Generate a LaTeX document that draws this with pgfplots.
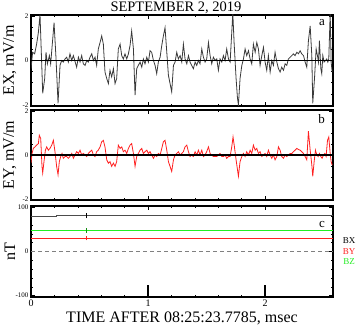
\documentclass[border=0pt]{standalone}
\usepackage{pgfplots}
\pgfplotsset{compat=1.18}
\usepackage{fontspec}
\setmainfont{Liberation Serif}
\definecolor{exgray}{HTML}{3A3A3A}
\definecolor{bzgreen}{HTML}{22EE22}
\definecolor{byred}{HTML}{FF2020}
\pgfplotsset{
  panel/.style={
    scale only axis, anchor=south west, width=302bp, height=91bp,
    xmin=0, xmax=2.58, clip=true,
    axis line style={line width=1.4bp},
    tick style={black, line width=0.5bp},
    major tick length=4bp, minor tick length=2bp,
    xtick={0,1,2}, minor x tick num=4,
    /pgf/number format/assume math mode=true,
    yticklabel style={font=\fontsize{7bp}{8bp}\selectfont, xshift=1bp},
    xticklabel style={font=\fontsize{10bp}{11bp}\selectfont},
    ylabel style={at={(axis description cs:-0.07,0.5)}, anchor=center,
      font=\fontsize{16bp}{18bp}\selectfont},
  }
}
\begin{document}
\begin{tikzpicture}
\path[use as bounding box] (0,0) rectangle (357bp,325bp);
% ---------- panel a
\begin{axis}[panel, at={(31bp,219bp)}, ymin=-2.05, ymax=2.05, ytick={-2,0,2}, minor y tick num=3,
  xticklabels={}, ylabel={EX, mV/m},
  title={SEPTEMBER 2, 2019}, title style={at={(axis description cs:0.48,1)}, anchor=base, inner sep=0pt, yshift=-2bp, font=\fontsize{14.5bp}{16bp}\selectfont}]
\addplot[exgray, line width=0.8bp] coordinates {
(0,-0.37)(0.014,0.37)(0.031,0.30)(0.048,0.74)(0.063,1.26)(0.077,2.07)(0.091,-0.07)(0.100,-1.48)
(0.117,-0.81)(0.128,0.37)(0.140,-0.15)(0.157,0.22)(0.168,-0.15)(0.197,1.70)(0.214,0.07)(0.231,-1.93)
(0.248,-0.22)(0.262,0)(0.276,-0.07)(0.291,0.07)(0.305,0.15)(0.319,-0.07)(0.333,0.30)(0.348,0)
(0.362,0.22)(0.376,-0.04)(0.390,-0.30)(0.405,0.15)(0.419,-0.07)(0.433,0.22)(0.447,-0.15)(0.462,-0.22)
(0.476,0)(0.490,-0.07)(0.504,0.15)(0.519,0.30)(0.533,0)(0.547,0.15)(0.561,-0.22)(0.575,0.52)
(0.590,0.81)(0.604,1.11)(0.618,0.74)(0.632,-0.52)(0.647,-0.81)(0.661,-1.04)(0.675,-0.44)(0.689,-0.74)
(0.704,-0.37)(0.718,-1.04)(0.732,-0.81)(0.746,0.52)(0.761,0.74)(0.775,0.22)(0.789,0.07)(0.803,0.30)
(0.818,0.07)(0.832,0.30)(0.846,0.67)(0.860,1.33)(0.875,0.52)(0.889,-1.56)(0.903,-0.37)(0.917,-0.22)
(0.932,-0.07)(0.946,-0.30)(0.960,0.07)(0.974,-0.15)(0.989,0.15)(1.003,-0.07)(1.017,0.44)(1.031,0.37)
(1.046,0)(1.060,-0.22)(1.074,-0.59)(1.088,-0.07)(1.103,0.15)(1.117,0.67)(1.131,1.11)(1.145,1.48)
(1.160,0.37)(1.174,-0.67)(1.188,-1.04)(1.202,-1.41)(1.217,-0.22)(1.231,-0.07)(1.245,0.37)(1.259,0.07)
(1.274,0.22)(1.288,-0.07)(1.302,0.74)(1.316,0.07)(1.331,-0.15)(1.345,0.22)(1.359,-0.07)(1.373,-0.22)
(1.387,-0.37)(1.402,-0.07)(1.416,-0.22)(1.430,0)(1.444,-0.15)(1.459,0.52)(1.473,0.15)(1.487,-0.07)
(1.501,0.07)(1.516,0.81)(1.530,0.22)(1.544,-0.15)(1.558,0.15)(1.573,0)(1.587,0.07)(1.601,-0.44)
(1.615,0.07)(1.630,-0.07)(1.644,0.22)(1.658,0)(1.672,0.52)(1.687,0.07)(1.701,-0.07)(1.715,1.26)
(1.724,2.15)(1.735,0.81)(1.752,-0.81)(1.764,-1.70)(1.772,-2.0)(1.786,-0.81)(1.801,-0.22)(1.815,0.07)
(1.829,0.52)(1.843,0.22)(1.858,0.44)(1.872,0.07)(1.886,-0.15)(1.900,0.74)(1.915,0.37)(1.929,0.81)
(1.943,0.52)(1.957,-0.22)(1.972,0.22)(1.986,0.59)(2.000,-0.07)(2.014,-0.44)(2.028,0.22)(2.043,-0.52)
(2.057,0)(2.071,-0.22)(2.085,0.37)(2.100,-0.07)(2.114,-0.37)(2.128,-0.52)(2.142,-0.30)(2.157,-0.44)
(2.171,-0.15)(2.185,-0.22)(2.199,0.07)(2.214,0.15)(2.228,0.22)(2.242,0.30)(2.256,0.22)(2.271,0.37)
(2.285,0.30)(2.299,0.44)(2.313,0.30)(2.328,0.22)(2.342,-0.07)(2.356,-0.30)(2.370,0.89)(2.385,1.56)
(2.399,0.22)(2.407,-1.93)(2.422,-0.81)(2.436,0.52)(2.447,0.22)(2.456,-0.07)(2.464,0.89)(2.476,-0.37)
(2.484,-0.59)(2.493,0.22)(2.504,-0.07)(2.516,0)(2.527,0.07)(2.536,-0.07)(2.544,0.07)(2.556,2.15)
(2.564,-0.07)(2.573,-0.52)
};
\addplot[black, line width=1.5bp] coordinates {(0,0)(2.58,0)};
\node[anchor=north east, font=\fontsize{13bp}{14bp}\selectfont] at (rel axis cs:0.985,0.99) {a};
\end{axis}
% ---------- panel b
\begin{axis}[panel, at={(31bp,125bp)}, height=90bp, ymin=-2.05, ymax=2.05, ytick={-2,0,2}, minor y tick num=3,
  xticklabels={}, ylabel={EY, mV/m}]
\addplot[byred, line width=0.8bp] coordinates {
(0,-0.37)(0.009,0.07)(0.020,0.30)(0.034,0.37)(0.048,0.45)(0.063,0.52)(0.071,0.90)(0.083,0.75)
(0.094,-0.52)(0.100,-0.82)(0.111,-0.30)(0.123,0.22)(0.134,0.37)(0.148,0.22)(0.162,0.30)(0.177,0.45)
(0.191,0.67)(0.205,0.15)(0.219,-0.52)(0.231,-0.90)(0.242,-0.30)(0.254,-0.07)(0.265,0.07)(0.276,-0.15)
(0.291,-0.07)(0.305,-0.07)(0.319,-0.15)(0.333,-0.07)(0.348,0.07)(0.362,-0.15)(0.376,0)(0.390,0.15)
(0.405,0.07)(0.419,0.22)(0.433,0)(0.447,0.07)(0.462,0)(0.476,-0.07)(0.490,0.07)(0.504,0.15)
(0.519,0.22)(0.533,0)(0.547,-0.07)(0.561,0.15)(0.575,0.22)(0.590,0.37)(0.604,0.60)(0.618,0.67)
(0.632,0.37)(0.647,-0.22)(0.661,-0.37)(0.675,-0.30)(0.689,-0.52)(0.704,-0.37)(0.718,-0.52)(0.732,-0.30)
(0.746,0.45)(0.761,0.30)(0.775,0.37)(0.789,0.15)(0.803,0.22)(0.818,0.07)(0.832,0.30)(0.846,0.45)
(0.860,0.52)(0.875,0.07)(0.889,-0.52)(0.903,-0.07)(0.917,0.07)(0.932,0.22)(0.946,0.30)(0.960,0.07)
(0.974,0.15)(0.989,0.22)(1.003,0.07)(1.017,0.15)(1.031,0)(1.046,-0.15)(1.060,0)(1.074,-0.07)
(1.088,0.07)(1.103,0)(1.117,0.30)(1.131,0.60)(1.145,0.67)(1.160,0.22)(1.174,-0.30)(1.188,-0.52)
(1.202,-0.75)(1.217,-0.22)(1.231,0)(1.245,0.07)(1.259,0.15)(1.274,0)(1.288,0.07)(1.302,0.15)
(1.316,0.37)(1.331,0.45)(1.345,0.15)(1.359,-0.07)(1.373,0)(1.387,-0.07)(1.402,0.15)(1.416,0)
(1.430,0.22)(1.444,0)(1.459,0.22)(1.473,-0.07)(1.487,0)(1.501,0.15)(1.516,0.37)(1.530,0.07)
(1.544,0)(1.558,-0.07)(1.573,-0.07)(1.587,-0.07)(1.601,0)(1.615,0.07)(1.630,-0.07)(1.644,-0.07)
(1.658,0)(1.672,-0.15)(1.687,-0.07)(1.701,-0.07)(1.715,0.37)(1.726,0.82)(1.738,0.37)(1.752,-0.22)
(1.764,-0.67)(1.772,-0.97)(1.786,-0.30)(1.801,-0.07)(1.815,0.07)(1.829,-0.07)(1.843,0.15)(1.858,0)
(1.872,0.22)(1.886,0.07)(1.900,0.45)(1.915,0.22)(1.929,0.30)(1.943,0.07)(1.957,0.15)(1.972,-0.07)
(1.986,0)(2.000,0.07)(2.014,-0.07)(2.028,0.22)(2.043,0)(2.057,-0.15)(2.071,0)(2.085,-0.22)
(2.100,-0.07)(2.114,0.37)(2.128,0.22)(2.142,-0.07)(2.157,-0.15)(2.171,0)(2.185,-0.07)(2.199,0)
(2.214,0.07)(2.228,0.07)(2.242,0.15)(2.256,0.22)(2.271,0.30)(2.285,0.25)(2.299,0.22)(2.313,0.15)
(2.328,0.07)(2.342,-0.07)(2.356,-0.22)(2.370,1.09)(2.385,0.22)(2.399,-0.45)(2.407,-0.97)(2.419,-0.30)
(2.430,0.22)(2.442,0)(2.453,-0.07)(2.464,0.07)(2.476,-0.07)(2.487,-0.15)(2.499,0)(2.510,0.07)
(2.521,-0.07)(2.533,0.67)(2.544,0.82)(2.556,0.07)(2.564,-0.30)(2.573,-0.45)
};
\addplot[black, line width=1.5bp] coordinates {(0,0)(2.58,0)};
\node[anchor=north east, font=\fontsize{13bp}{14bp}\selectfont] at (rel axis cs:0.985,0.99) {b};
\end{axis}
% ---------- panel c
\begin{axis}[panel, at={(31bp,28bp)}, ymin=-103, ymax=103, ytick={-100,0,100}, minor y tick num=4,
  ylabel={nT}, xticklabels={0,1,2},
  xlabel={TIME AFTER 08:25:23.7785, msec},
  xlabel style={font=\fontsize{16bp}{18bp}\selectfont, yshift=1bp},
  xticklabel style={yshift=1bp}]
\addplot[gray!60!black, line width=0.9bp] coordinates {(0,80)(0.22,80)(0.22,81)(2.58,81)};
\addplot[bzgreen, line width=1.3bp] coordinates {(0,47)(0.22,47)(0.22,48)(2.58,48)};
\addplot[byred, line width=1.1bp] coordinates {(0,30)(2.58,30)};
\addplot[black, line width=0.9bp] coordinates {(0.47,75)(0.47,87)};
\addplot[byred, line width=0.9bp] coordinates {(0.47,25)(0.47,35)};
\addplot[bzgreen!60!black, line width=0.9bp] coordinates {(0.47,43)(0.47,53)};
\addplot[gray, dashed, line width=1bp, dash pattern=on 4bp off 3bp] coordinates {(0,0)(2.58,0)};
\addplot[black, line width=1.4bp] coordinates {(1,-103)(1,-76)};
\addplot[black, line width=1.4bp] coordinates {(2,-103)(2,-76)};
\node[anchor=center, font=\fontsize{13bp}{14bp}\selectfont] at (rel axis cs:0.964,0.80) {c};
\end{axis}
\begin{scope}[font=\fontsize{9bp}{10bp}\selectfont]
\node at (349bp,84bp) {BX};
\node[text=byred] at (349bp,73bp) {BY};
\node[text=bzgreen] at (349bp,63bp) {BZ};
\end{scope}
\end{tikzpicture}
\end{document}
